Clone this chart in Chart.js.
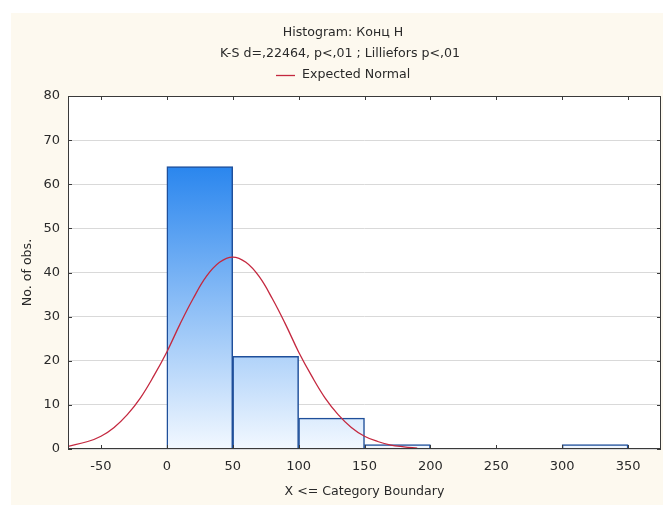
<!DOCTYPE html>
<html>
<head>
<meta charset="utf-8">
<script src="https://cdn.jsdelivr.net/npm/chart.js@4"></script>
<style>
  html, body { margin: 0; padding: 0; background: #fff; }
  #wrap { width: 663px; height: 505px; }
</style>
</head>
<body>
<div id="wrap"><canvas id="hist" width="663" height="505"></canvas></div>
<script>
// histogram bins (centre of each 50-wide class) and counts
const binCenters = [25, 75, 125, 175, 325];
const binCounts = [64, 21, 7, 1, 1];

// expected normal curve
const curveX = [-75, -60, -50, -40, -30, -20, -10, 0, 10, 20, 30, 40, 50, 60, 70, 80, 90, 100, 110, 120, 130, 140, 150, 160, 170, 180, 190];
const curveY = [0.6, 1.7, 2.9, 4.9, 7.8, 11.6, 16.5, 22.0, 28.3, 34.1, 39.1, 42.3, 43.5, 42.3, 39.1, 34.1, 28.3, 22.0, 16.5, 11.6, 7.8, 4.9, 2.9, 1.7, 0.9, 0.5, 0.2];

const xTicks = [-50, 0, 50, 100, 150, 200, 250, 300, 350];
const yTicks = [0, 10, 20, 30, 40, 50, 60, 70, 80];

const titleLines = ['Histogram: Конц Н', 'K-S d=,22464, p<,01 ; Lilliefors p<,01'];
const legendLabel = 'Expected Normal';
const xTitle = 'X <= Category Boundary';
const yTitle = 'No. of obs.';

const FONT = '"DejaVu Sans", Arial, sans-serif';
const TXT = '#2a2a2a';

function barFill(ctx) {
  const area = ctx.chart.chartArea;
  if (!area) return '#4a97ee';
  const g = ctx.chart.ctx.createLinearGradient(0, area.top, 0, area.bottom);
  g.addColorStop(0, '#1a70e0');
  g.addColorStop(0.2, '#2a86ee');
  g.addColorStop(1, '#f2f8ff');
  return g;
}

const decor = {
  id: 'decor',
  beforeDraw(chart) {
    const c = chart.ctx;
    c.save();
    c.fillStyle = '#ffffff';
    c.fillRect(0, 0, chart.width, chart.height);
    c.fillStyle = '#fdf9ef';
    c.fillRect(11, 13, chart.width - 11, chart.height - 13);
    const a = chart.chartArea;
    c.fillStyle = '#ffffff';
    c.fillRect(a.left, a.top, a.right - a.left, a.bottom - a.top);
    c.restore();
  },
  afterDatasetsDraw(chart) {
    const c = chart.ctx;
    const a = chart.chartArea;
    const xs = chart.scales.x, ys = chart.scales.y;
    c.save();
    // frame
    c.strokeStyle = '#3a3a3a';
    c.lineWidth = 1;
    c.strokeRect(a.left + 0.5, a.top + 0.5, a.right - a.left - 1, a.bottom - a.top - 1);
    // inward tick marks
    c.beginPath();
    xTicks.forEach(v => {
      const px = Math.round(xs.getPixelForValue(v)) + 0.5;
      c.moveTo(px, a.top); c.lineTo(px, a.top + 4);
      c.moveTo(px, a.bottom); c.lineTo(px, a.bottom - 4);
    });
    yTicks.forEach(v => {
      const py = Math.round(ys.getPixelForValue(v)) + 0.5;
      c.moveTo(a.left, py); c.lineTo(a.left + 4, py);
      c.moveTo(a.right, py); c.lineTo(a.right - 4, py);
    });
    c.stroke();

    // titles
    c.fillStyle = TXT;
    c.font = '12.6px ' + FONT;
    c.textAlign = 'center';
    c.textBaseline = 'middle';
    c.fillText(titleLines[0], 343, 33);
    c.fillText(titleLines[1], 340, 54);
    // legend
    c.strokeStyle = '#c4283f';
    c.lineWidth = 1.3;
    c.beginPath();
    c.moveTo(276, 75.5); c.lineTo(295, 75.5);
    c.stroke();
    c.textAlign = 'left';
    c.fillText(legendLabel, 302, 75);

    // axis titles
    c.textAlign = 'center';
    c.fillText(xTitle, (a.left + a.right) / 2, 492);
    c.translate(28, (a.top + a.bottom) / 2);
    c.rotate(-Math.PI / 2);
    c.fillText(yTitle, 0, 0);
    c.restore();
  }
};

new Chart(document.getElementById('hist'), {
  data: {
    datasets: [
      {
        type: 'line',
        label: legendLabel,
        data: curveX.map((x, i) => ({ x: x, y: curveY[i] })),
        borderColor: '#c4283f',
        borderWidth: 1.3,
        pointRadius: 0,
        tension: 0.4,
        fill: false
      },
      {
        type: 'bar',
        label: 'Counts',
        data: binCenters.map((x, i) => ({ x: x, y: binCounts[i] })),
        backgroundColor: barFill,
        borderColor: '#1f4f9a',
        borderWidth: 1.5,
        barPercentage: 1,
        categoryPercentage: 1
      }
    ]
  },
  options: {
    responsive: false,
    animation: false,
    layout: { padding: { top: 96, right: 2, left: 0, bottom: 0 } },
    plugins: {
      legend: { display: false },
      title: { display: false },
      tooltip: { enabled: false }
    },
    scales: {
      x: {
        type: 'linear',
        offset: false,
        min: -75,
        max: 375,
        afterBuildTicks: s => { s.ticks = xTicks.map(v => ({ value: v })); },
        afterFit: s => { s.height = 56; },
        grid: { display: false, drawTicks: false, offset: false },
        border: { display: false },
        ticks: { color: TXT, font: { family: FONT, size: 13 }, padding: 10, maxRotation: 0, autoSkip: false }
      },
      y: {
        min: 0,
        max: 80,
        afterBuildTicks: s => { s.ticks = yTicks.map(v => ({ value: v })); },
        afterFit: s => { s.width = 68; },
        grid: { color: '#d9d9d9', drawTicks: false },
        border: { display: false },
        ticks: { color: TXT, font: { family: FONT, size: 13 }, padding: 8 }
      }
    }
  },
  plugins: [decor]
});
</script>
</body>
</html>
